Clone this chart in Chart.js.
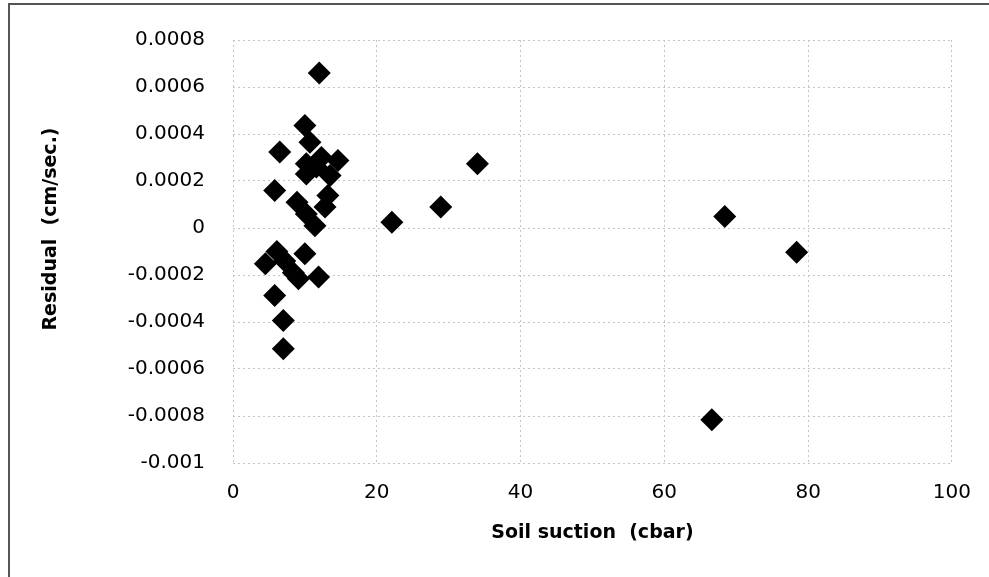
<!DOCTYPE html>
<html>
<head>
<meta charset="utf-8">
<title>Residual vs Soil suction</title>
<script src="https://cdn.jsdelivr.net/npm/chart.js@4.4.0/dist/chart.umd.min.js"></script>
<style>
  body { margin: 0; background: #fff; }
  #wrap { position: relative; width: 989px; height: 577px; }
  .edge { position: absolute; background: #555; }
  #edgeTop { left: 8px; top: 3px; width: 981px; height: 2px; }
  #edgeLeft { left: 8px; top: 3px; width: 2px; height: 574px; }
</style>
</head>
<body>
<div id="wrap">
  <canvas id="residualChart" width="989" height="577"></canvas>
  <div class="edge" id="edgeTop"></div>
  <div class="edge" id="edgeLeft"></div>
</div>
<script>
// soil suction (cbar) and residual (cm/sec.)
const suction = [
  12.0, 10.0, 10.7, 6.5, 12.3, 14.6, 10.2, 11.6, 13.5, 10.2,
  5.8, 8.9, 13.2, 12.8, 10.2, 11.4,
  22.1, 28.9, 34.0, 68.4, 78.4, 66.6,
  4.5, 6.1, 7.2, 8.4, 9.1, 10.0, 11.9, 5.8, 7.0, 7.0
];
const residual = [
  0.00066, 0.000436, 0.000365, 0.000323, 0.0003, 0.000287, 0.000273, 0.00026, 0.000223, 0.00023,
  0.00016, 0.00011, 0.000138, 0.000089, 0.00006, 0.00001,
  0.000025, 0.000089, 0.000273, 0.000049, -0.000103, -0.000816,
  -0.000152, -0.0001, -0.00014, -0.00019, -0.000216, -0.00011, -0.000209, -0.000287, -0.000394, -0.000514
];

const xTicks = [0, 20, 40, 60, 80, 100];
const yTicks = [-0.001, -0.0008, -0.0006, -0.0004, -0.0002, 0, 0.0002, 0.0004, 0.0006, 0.0008];
const yTickLabels = ["-0.001", "-0.0008", "-0.0006", "-0.0004", "-0.0002", "0", "0.0002", "0.0004", "0.0006", "0.0008"];

const points = suction.map((s, i) => ({ x: s, y: residual[i] }));

const FONT = "'DejaVu Sans', 'Open Sans', sans-serif";

// y axis title, drawn where Excel put it (a bit above the plot's middle)
const yTitlePlugin = {
  id: "yTitle",
  afterDraw(chart) {
    const ctx = chart.ctx;
    ctx.save();
    ctx.translate(51, 229);
    ctx.rotate(-Math.PI / 2);
    ctx.font = "bold 19px " + FONT;
    ctx.fillStyle = "#000";
    ctx.textAlign = "center";
    ctx.textBaseline = "middle";
    ctx.fillText("Residual  (cm/sec.)", 0, 0);
    ctx.restore();
  },
};

const grid = {
  color: "#c4c4c4",
  lineWidth: 1,
  drawTicks: false,
};

new Chart(document.getElementById("residualChart"), {
  type: "scatter",
  data: {
    datasets: [
      {
        label: "Residual",
        data: points,
        pointStyle: "rectRot",
        pointRadius: 11.5,
        pointHoverRadius: 11.5,
        backgroundColor: "#000",
        borderColor: "#000",
        borderWidth: 0,
      },
    ],
  },
  options: {
    responsive: false,
    animation: false,
    layout: { padding: { top: 40, right: 37, left: 0, bottom: 0 } },
    plugins: {
      legend: { display: false },
      tooltip: { enabled: false },
    },
    scales: {
      x: {
        type: "linear",
        min: 0,
        max: 100,
        afterBuildTicks: (scale) => {
          scale.ticks = xTicks.map((v) => ({ value: v }));
        },
        afterFit: (scale) => {
          scale.height = 114;
        },
        grid: grid,
        border: { display: false, dash: [2, 3] },
        ticks: {
          color: "#000",
          padding: 18,
          font: { family: FONT, size: 20 },
          callback: (v) => String(v),
        },
        title: {
          display: true,
          text: "Soil suction  (cbar)",
          color: "#000",
          font: { family: FONT, size: 19, weight: "bold" },
          padding: { top: 0, bottom: 33 },
        },
      },
      y: {
        type: "linear",
        min: -0.001,
        max: 0.0008,
        afterBuildTicks: (scale) => {
          scale.ticks = yTicks.map((v) => ({ value: v }));
        },
        afterFit: (scale) => {
          scale.width = 233;
        },
        grid: grid,
        border: { display: false, dash: [2, 3] },
        ticks: {
          color: "#000",
          padding: 28,
          font: { family: FONT, size: 20 },
          callback: (v, i) => yTickLabels[i],
        },
      },
    },
  },
  plugins: [yTitlePlugin],
});
</script>
</body>
</html>
